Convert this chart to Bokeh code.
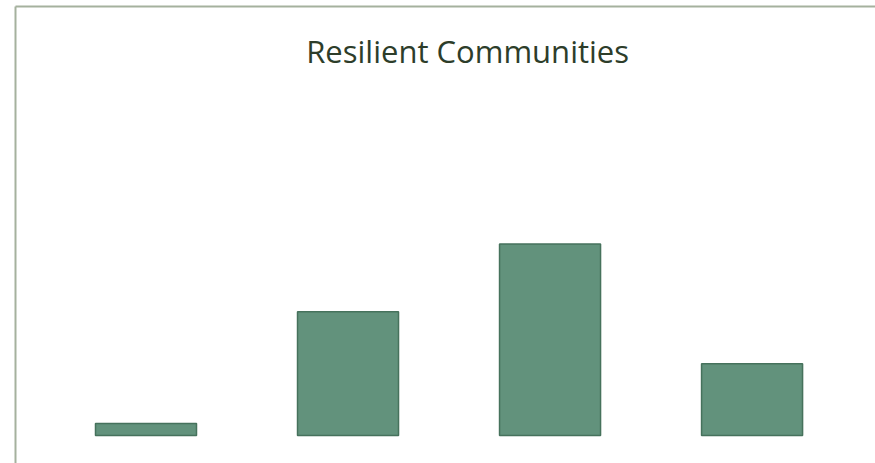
from bokeh.plotting import figure
from bokeh.models import Range1d, LinearAxis, Label
from bokeh.embed import file_html
from bokeh.resources import INLINE

categories = ["Category 1", "Category 2", "Category 3", "Category 4"]
values = [3, 31, 48, 18]
title_text = "Resilient Communities"

xs = list(range(len(categories)))

p = figure(width=875, height=463, output_backend="svg", toolbar_location=None,
           x_range=Range1d(-0.646, 3.611), y_range=Range1d(-7, 107.5),
           min_border_left=15, min_border_top=5, min_border_right=0, min_border_bottom=0)
p.outline_line_color = None
p.grid.visible = False
p.xaxis.visible = False
p.background_fill_color = "white"
p.border_fill_color = "white"

border_color = "#A5B19E"
for ax in p.yaxis:
    ax.axis_line_color = border_color
    ax.axis_line_width = 2
    ax.major_tick_line_color = None
    ax.minor_tick_line_color = None
    ax.major_label_text_font_size = "0px"
    ax.major_label_text_color = None

top = LinearAxis(axis_line_color=border_color, axis_line_width=2,
                 major_tick_line_color=None, minor_tick_line_color=None,
                 major_label_text_font_size="0px", major_label_text_color=None)
p.add_layout(top, "above")

p.vbar(x=xs, top=values, bottom=0, width=0.5,
       fill_color="#62927C", line_color="#46725C", line_width=1.5)

p.add_layout(Label(x=1.592, y=96.3, text=title_text, text_align="center",
                   text_baseline="alphabetic", text_font="Open Sans",
                   text_font_size="31px", text_color="#2D3D2A"))

open("out.html", "w").write(file_html(p, INLINE))
